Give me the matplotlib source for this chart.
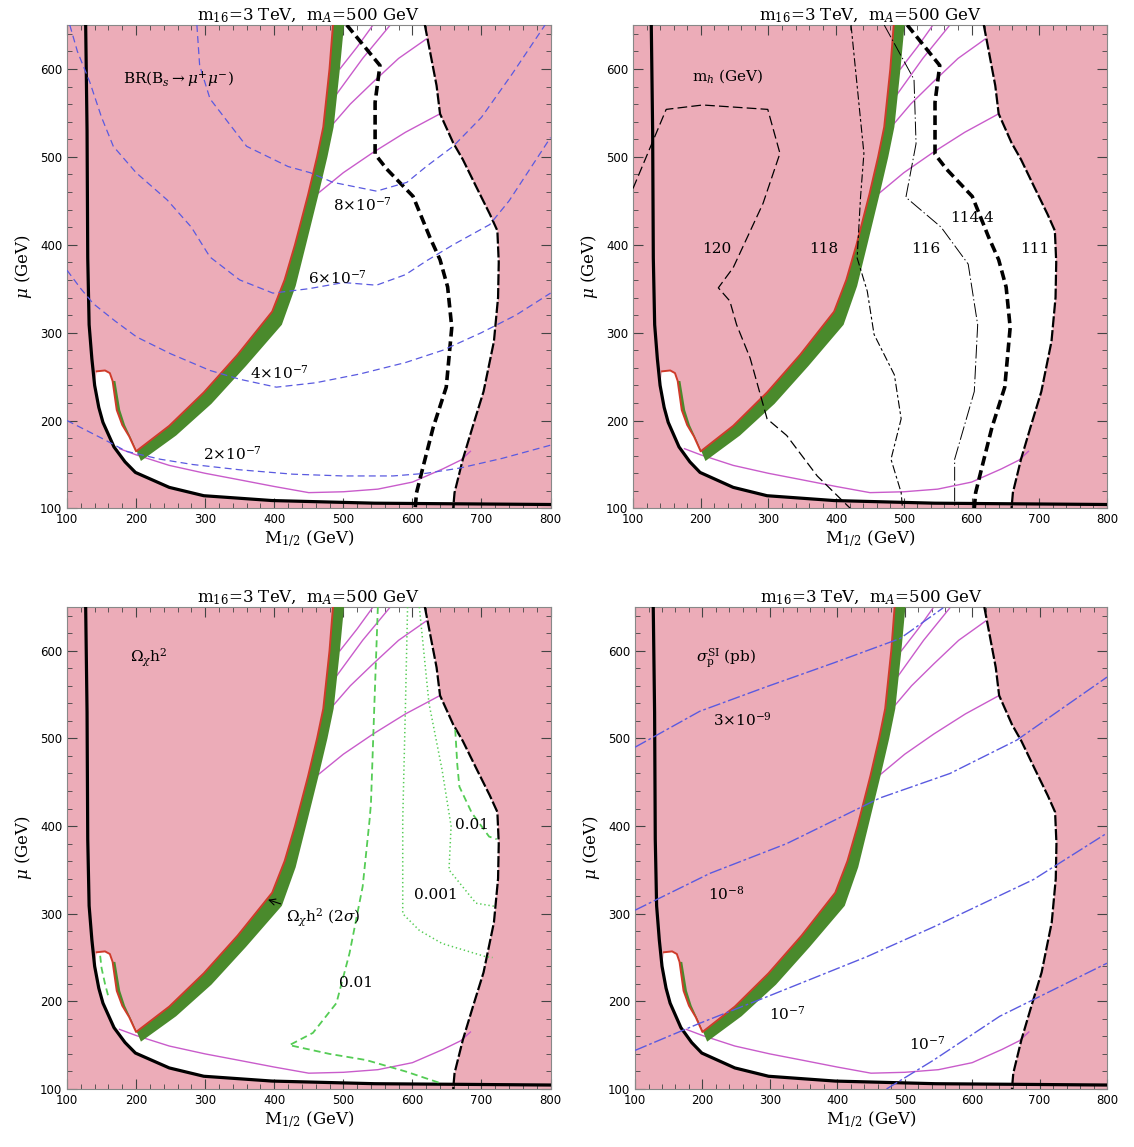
import numpy as np
import matplotlib
matplotlib.use('Agg')
import matplotlib.pyplot as plt
from matplotlib.ticker import MultipleLocator

plt.rcParams['font.family'] = 'DejaVu Sans'
plt.rcParams['mathtext.fontset'] = 'dejavuserif'
plt.rcParams['lines.scale_dashes'] = False

PINK = '#ecacb8'
GREEN = '#4a8a2c'
RED = '#cf3b2a'
MAGENTA = '#c95ccb'
BLUE = '#5a5ae0'
LGREEN = '#55cc55'
SERIF = 'DejaVu Serif'

title = r'm$_{16}$=3 TeV,  m$_{A}$=500 GeV'

# ---- common boundaries (M_1/2, mu) ----
# LEP chargino bound (solid black)
black_x = [127, 129, 130, 132, 136, 140, 146, 152, 160, 168, 184, 199, 248, 298, 397, 545, 800]
black_y = [650, 530, 385, 309, 270, 240, 215, 198, 184, 170, 153, 141, 124, 114.5, 109, 106, 104.5]

# red edge of the excluded (charged LSP) region, bump + rising edge
red_x = [143, 155, 162, 166, 172, 180, 190, 200, 248, 298, 347, 397, 415, 430, 449, 462, 471, 480, 485]
red_y = [256, 257, 254, 245, 212, 195, 182, 165, 194, 232, 275, 324, 360, 400, 457, 500, 534, 600, 650]

# right edge of the WMAP 2 sigma green band
band_x = [501, 495, 486, 477, 464, 446, 431, 411, 359, 309, 258, 207, 194, 184, 177, 170]
band_y = [650, 600, 534, 500, 457, 400, 353, 309, 262, 219, 183, 154, 178, 195, 212, 245]

# m_h = 111 GeV, right boundary (long dashed)
right_x = [618, 622, 635, 640, 659, 673, 693, 712, 723, 725, 724, 718, 703, 688, 673, 661, 659]
right_y = [650, 634, 581, 549, 516, 497, 465, 435, 416, 380, 340, 290, 233, 195, 156, 118, 100]

# m_h = 114.4 GeV (thick dashed)
lep_x = [505, 553, 546, 546, 563, 601, 625, 640, 651, 657, 649, 630, 615, 606, 604]
lep_y = [650, 604, 562, 503, 486, 455, 409, 383, 352, 306, 238, 192, 146, 118, 100]

# magenta solid contours
mag_low_x = [176, 200, 248, 300, 347, 400, 450, 500, 550, 600, 644, 670, 684]
mag_low_y = [168, 161, 149, 140, 133, 125, 118, 119, 122, 130, 145, 155, 165]
mag_diag = [
    ([461, 500, 543, 590, 640], [457, 482, 505, 528, 549]),
    ([478, 510, 543, 580, 620], [531, 560, 585, 612, 634]),
    ([489, 528, 568], [570, 612, 650]),
    ([495, 520, 543], [600, 625, 650]),
]

# ---- panel 1: BR(Bs -> mu mu) ----
br_lines = {
    '2e-7': ([100, 150, 186, 235, 282, 350, 427, 500, 572, 620, 669, 730, 800],
             [200, 180, 165, 156, 150, 144, 139, 137, 137, 140, 146, 157, 172]),
    '4e-7': ([100, 120, 138, 170, 201, 250, 307, 350, 403, 460, 524, 590, 644, 700, 750, 800],
             [371, 350, 333, 313, 295, 276, 257, 247, 238, 243, 253, 266, 280, 300, 320, 345]),
    '6e-7': ([104, 115, 133, 150, 167, 200, 245, 280, 307, 350, 398, 450, 500, 548, 590, 621, 659, 712, 740, 760, 800],
             [650, 620, 585, 545, 512, 482, 451, 420, 386, 360, 345, 350, 357, 354, 366, 382, 400, 423, 450, 474, 522]),
    '8e-7': ([288, 292, 307, 360, 420, 452, 485, 548, 592, 620, 659, 700, 745, 792],
             [650, 604, 566, 512, 489, 482, 471, 461, 471, 489, 512, 545, 595, 650]),
}
br_labels = [(528, 445, r'8$\times$10$^{-7}$'), (491, 363, r'6$\times$10$^{-7}$'),
             (408, 254, r'4$\times$10$^{-7}$'), (339, 162, r'2$\times$10$^{-7}$')]

# ---- panel 2: m_h contours ----
mh120_x = [100, 149, 203, 299, 317, 292, 248, 226, 243, 253, 273, 298, 327, 372, 421]
mh120_y = [464, 554, 559, 554, 504, 447, 374, 351, 336, 309, 271, 202, 183, 137, 100]
mh118_x = [422, 441, 436, 431, 446, 456, 486, 496, 481, 496, 498]
mh118_y = [650, 504, 454, 385, 347, 298, 252, 202, 156, 118, 100]
mh116_x = [471, 515, 518, 503, 555, 595, 609, 604, 575, 575]
mh116_y = [650, 588, 515, 454, 420, 378, 309, 233, 156, 100]
mh_labels = [(224, 395, '120'), (382, 395, '118'), (533, 395, '116'), (600, 430, '114.4'), (693, 395, '111')]

# ---- panel 3: relic density contours ----
om01a_x = [550, 545, 540, 538, 528, 509, 490, 456, 422, 480, 533, 590, 643]
om01a_y = [650, 540, 426, 407, 331, 255, 198, 164, 150, 140, 133, 120, 106]
om01b_x = [662, 665, 668, 686, 711, 722]
om01b_y = [510, 470, 445, 415, 388, 385]
om01c_x = [148, 150, 155, 160]
om01c_y = [252, 238, 220, 205]
om001a_x = [593, 590, 586, 586, 610, 643, 706, 716]
om001a_y = [650, 540, 407, 300, 281, 266, 251, 250]
om001b_x = [610, 624, 643, 656, 653, 692, 722]
om001b_y = [650, 540, 464, 400, 350, 312, 308]

# ---- panel 4: sigma_SI contours ----
si_lines = [
    ([100, 196, 295, 394, 493, 557], [490, 531, 559, 586, 614, 649]),
    ([100, 211, 325, 463, 567, 666, 800], [304, 346, 380, 432, 460, 498, 570]),
    ([100, 196, 295, 444, 543, 691, 800], [144, 175, 205, 251, 285, 339, 392]),
    ([473, 543, 641, 800], [100, 133, 183, 243.5]),
]
si_labels = [(260, 521, r'3$\times$10$^{-9}$'), (236, 323, r'10$^{-8}$'),
             (325, 186, r'10$^{-7}$'), (533, 152, r'10$^{-7}$')]


def base(ax, show_lep=True):
    ax.set_facecolor(PINK)
    # allowed (white) region
    bx, by = np.array(black_x), np.array(black_y)
    y_cut = np.interp(660, bx, by)
    keep = (by <= 256) & (bx < 660)
    px = list(red_x) + right_x[:-1] + [660] + list(bx[keep][::-1])
    py = list(red_y) + right_y[:-1] + [y_cut] + list(by[keep][::-1])
    ax.fill(px, py, color='white', lw=0, zorder=1)
    # green band
    gx = red_x[3:] + band_x
    gy = red_y[3:] + band_y
    ax.fill(gx, gy, color=GREEN, lw=0, zorder=3)
    ax.plot(red_x, red_y, color=RED, lw=1.4, zorder=4)
    for xs, ys in mag_diag:
        ax.plot(xs, ys, color=MAGENTA, lw=1.0, zorder=2)
    ax.plot(mag_low_x, mag_low_y, color=MAGENTA, lw=1.0, zorder=2)
    ax.plot(black_x, black_y, color='k', lw=2.3, zorder=5)
    ax.plot(right_x, right_y, color='k', lw=1.6, dashes=(8, 2), zorder=5)
    if show_lep:
        ax.plot(lep_x, lep_y, color='k', lw=2.6, dashes=(7, 3.5), zorder=5)

    ax.set_xlim(100, 800)
    ax.set_ylim(100, 650)
    ax.xaxis.set_major_locator(MultipleLocator(100))
    ax.xaxis.set_minor_locator(MultipleLocator(20))
    ax.yaxis.set_major_locator(MultipleLocator(100))
    ax.yaxis.set_minor_locator(MultipleLocator(20))
    ax.tick_params(which='both', direction='in', top=True, right=True, labelsize=8.5, color='#444444')
    ax.tick_params(which='major', length=7, width=0.8)
    ax.tick_params(which='minor', length=3.5, width=0.6)
    ax.set_yticks([100, 200, 300, 400, 500, 600])
    for s in ax.spines.values():
        s.set_color('#888888')
        s.set_linewidth(0.8)
    ax.set_title(title, fontsize=12, family=SERIF, pad=3)
    ax.set_xlabel(r'M$_{1/2}$ (GeV)', fontsize=12, family=SERIF, labelpad=2)
    ax.set_ylabel(r'$\mu$ (GeV)', fontsize=12, family=SERIF, labelpad=4)


fig = plt.figure(figsize=(11.34, 11.47), dpi=100)
ax1 = fig.add_axes([0.0591, 0.5567, 0.4264, 0.4215])
ax2 = fig.add_axes([0.5582, 0.5567, 0.4180, 0.4215])
ax3 = fig.add_axes([0.0591, 0.0506, 0.4264, 0.4202])
ax4 = fig.add_axes([0.5600, 0.0506, 0.4162, 0.4202])

# panel 1
base(ax1)
for key, (xs, ys) in br_lines.items():
    ax1.plot(xs, ys, color=BLUE, lw=0.9, dashes=(5, 3), zorder=6)
for x, y, s in br_labels:
    ax1.text(x, y, s, fontsize=11, family=SERIF, ha='center', va='center', zorder=7)
ax1.text(181, 588, r'BR(B$_s$$\rightarrow$$\mu^{+}\mu^{-}$)', fontsize=11, family=SERIF,
         ha='left', va='center', zorder=7)

# panel 2
base(ax2)
ax2.plot(mh120_x, mh120_y, color='k', lw=0.9, dashes=(7, 3), zorder=6)
ax2.plot(mh118_x, mh118_y, color='k', lw=0.8, dashes=(6, 2, 2, 2), zorder=6)
ax2.plot(mh116_x, mh116_y, color='k', lw=0.7, dashes=(10, 2, 1, 2), zorder=6)
for x, y, s in mh_labels:
    ax2.text(x, y, s, fontsize=11, family=SERIF, ha='center', va='center', zorder=7)
ax2.text(187, 592, r'm$_h$ (GeV)', fontsize=11, family=SERIF, ha='left', va='center', zorder=7)

# panel 3
base(ax3, show_lep=False)
for xs, ys in [(om01a_x, om01a_y), (om01b_x, om01b_y), (om01c_x, om01c_y)]:
    ax3.plot(xs, ys, color=LGREEN, lw=1.3, dashes=(5, 3), zorder=6)
for xs, ys in [(om001a_x, om001a_y), (om001b_x, om001b_y)]:
    ax3.plot(xs, ys, color=LGREEN, lw=1.1, dashes=(1, 2), zorder=6)
ax3.text(686, 401, '0.01', fontsize=11, family=SERIF, ha='center', va='center', zorder=7)
ax3.text(634, 321, '0.001', fontsize=11, family=SERIF, ha='center', va='center', zorder=7)
ax3.text(518, 221, '0.01', fontsize=11, family=SERIF, ha='center', va='center', zorder=7)
ax3.text(191, 592, r'$\Omega_\chi$h$^2$', fontsize=11, family=SERIF, ha='left', va='center', zorder=7)
ax3.annotate(r'$\Omega_\chi$h$^2$ (2$\sigma$)', xy=(391, 316), xytext=(417, 295),
             fontsize=11, family=SERIF, ha='left', va='center', zorder=7,
             arrowprops=dict(arrowstyle='->', lw=0.8, color='k', shrinkA=2, shrinkB=0))

# panel 4
base(ax4, show_lep=False)
for xs, ys in si_lines:
    ax4.plot(xs, ys, color=BLUE, lw=1.0, dashes=(9, 2, 2, 2), zorder=6)
for x, y, s in si_labels:
    ax4.text(x, y, s, fontsize=11, family=SERIF, ha='center', va='center', zorder=7)
ax4.text(190, 592, r'$\sigma_{\rm p}^{\rm SI}$ (pb)', fontsize=11, family=SERIF,
         ha='left', va='center', zorder=7)

fig.savefig('out.png', dpi=100)
